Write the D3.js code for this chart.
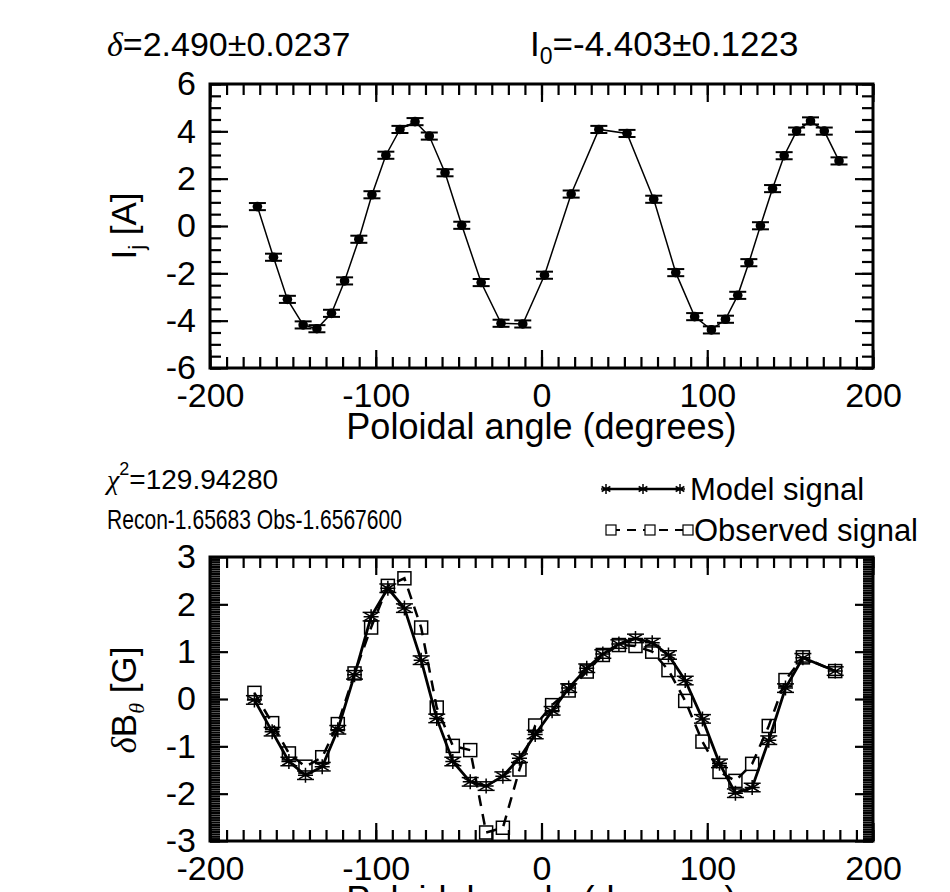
<!DOCTYPE html>
<html><head><meta charset="utf-8">
<script src="https://cdn.jsdelivr.net/npm/d3@7/dist/d3.min.js"></script>
<style>
body{margin:0;background:#fff}
svg text{font-family:"Liberation Sans",Arial,Helvetica,sans-serif;fill:#000}
</style>
</head><body>
<svg id="chart" width="950" height="892"></svg>
<script>
// ---------------- DATA ----------------
const topAngles = [-171.4,-161.7,-153.3,-143.8,-135.5,-126.7,-118.8,-110.2,-102.3,-93.9,-85.4,-76.3,-67.7,-58.2,-48.1,-36.4,-24.4,-11.3,1.8,17.9,34.6,51.6,67.7,81.0,92.4,102.5,111.0,118.4,125.1,132.1,139.4,146.4,153.9,162.3,170.6,179.5];
const topCurrent = [0.82,-1.32,-3.10,-4.18,-4.34,-3.69,-2.32,-0.56,1.32,2.99,4.08,4.41,3.80,2.25,0.03,-2.39,-4.11,-4.14,-2.08,1.35,4.08,3.91,1.13,-1.97,-3.83,-4.39,-3.94,-2.93,-1.55,0.01,1.58,2.97,4.01,4.44,4.01,2.75];
const topError = [0.15,0.15,0.15,0.15,0.15,0.15,0.15,0.15,0.15,0.15,0.15,0.15,0.15,0.15,0.15,0.15,0.15,0.15,0.15,0.15,0.15,0.15,0.15,0.15,0.15,0.15,0.15,0.15,0.15,0.15,0.15,0.15,0.15,0.15,0.15,0.15];

const botAngles = [-173.2,-162.5,-152.4,-142.4,-132.3,-122.9,-112.8,-102.8,-92.7,-82.7,-72.6,-63.2,-53.5,-43.0,-33.4,-23.3,-13.3,-3.8,6.4,16.4,27.3,37.0,46.7,56.7,66.8,76.6,86.7,97.1,107.4,117.0,127.1,137.1,147.2,157.7,177.2];
const modelSignal = [-0.02,-0.69,-1.32,-1.61,-1.43,-0.65,0.51,1.74,2.34,1.92,0.82,-0.41,-1.32,-1.75,-1.84,-1.63,-1.25,-0.75,-0.25,0.23,0.65,0.95,1.16,1.28,1.19,0.93,0.39,-0.42,-1.36,-1.99,-1.87,-0.87,0.23,0.87,0.59];
const modelError = [0.09,0.09,0.09,0.09,0.09,0.09,0.09,0.09,0.09,0.09,0.09,0.09,0.09,0.09,0.09,0.09,0.09,0.09,0.09,0.09,0.09,0.09,0.09,0.09,0.09,0.09,0.09,0.09,0.09,0.09,0.09,0.09,0.09,0.09,0.09];
const obsSignal = [0.13,-0.51,-1.15,-1.43,-1.23,-0.53,0.54,1.51,2.39,2.55,1.51,-0.18,-0.99,-1.08,-2.82,-2.72,-1.49,-0.56,-0.13,0.18,0.58,0.93,1.14,1.12,1.00,0.61,-0.04,-0.90,-1.54,-1.73,-1.37,-0.57,0.40,0.88,0.59];

const xTicks = [-200,-100,0,100,200];
const xMinorTicks = d3.range(-200, 201, 10);
const topYTicks = [-6,-4,-2,0,2,4,6];
const topYMinorTicks = d3.range(-6, 6.01, 0.5);
const botYTicks = [-3,-2,-1,0,1,2,3];
const botYMinorTicks = d3.range(-3, 3.001, 0.05);

const xTitle = "Poloidal angle (degrees)";
const legendLabels = ["Model signal", "Observed signal"];

// ---------------- LAYOUT ----------------
const svg = d3.select("#chart");
svg.append("rect").attr("width",950).attr("height",892).attr("fill","#fff");
const FONT = 34;
const L = 210, R = 873;
const topPanel = {t:84, b:368};
const botPanel = {t:557, b:841};

function drawFrame(panel, yDomain, yMajor, yMinor, yMinorLen) {
  const x = d3.scaleLinear().domain([-200,200]).range([L,R]);
  const y = d3.scaleLinear().domain(yDomain).range([panel.b, panel.t]);
  const g = svg.append("g");
  const style = sel => { sel.select(".domain").remove(); sel.selectAll("line").attr("stroke","#000").attr("stroke-width",2.2); sel.attr("font-family",null).attr("font-size",FONT); };
  // minor ticks
  g.append("g").attr("transform",`translate(0,${panel.b})`).call(d3.axisBottom(x).tickValues(xMinorTicks).tickSize(-11).tickFormat("")).call(style);
  g.append("g").attr("transform",`translate(0,${panel.t})`).call(d3.axisTop(x).tickValues(xMinorTicks).tickSize(-11).tickFormat("")).call(style);
  g.append("g").attr("transform",`translate(${L},0)`).call(d3.axisLeft(y).tickValues(yMinor).tickSize(-yMinorLen).tickFormat("")).call(style);
  g.append("g").attr("transform",`translate(${R},0)`).call(d3.axisRight(y).tickValues(yMinor).tickSize(-yMinorLen).tickFormat("")).call(style);
  // major ticks
  g.append("g").attr("transform",`translate(0,${panel.b})`).call(d3.axisBottom(x).tickValues(xTicks).tickSize(-18).tickPadding(15).tickFormat(d3.format("d"))).call(style);
  g.append("g").attr("transform",`translate(0,${panel.t})`).call(d3.axisTop(x).tickValues(xTicks).tickSize(-18).tickFormat("")).call(style);
  g.append("g").attr("transform",`translate(${L},0)`).call(d3.axisLeft(y).tickValues(yMajor).tickSize(-18).tickPadding(14).tickFormat(d3.format("d"))).call(style);
  g.append("g").attr("transform",`translate(${R},0)`).call(d3.axisRight(y).tickValues(yMajor).tickSize(-18).tickFormat("")).call(style);
  // minus sign as hyphen
  g.selectAll("text").text(function(){ return this.textContent.replace("\u2212","-"); });
  g.append("rect").attr("x",L).attr("y",panel.t).attr("width",R-L).attr("height",panel.b-panel.t)
    .attr("fill","none").attr("stroke","#000").attr("stroke-width",3);
  // x title
  svg.append("text").attr("x",(L+R)/2).attr("y",panel.b+71).attr("text-anchor","middle").attr("font-size",36).text(xTitle);
  return {x,y};
}

// ---------------- TOP PANEL ----------------
const A = drawFrame(topPanel, [-6,6], topYTicks, topYMinorTicks, 11);
const topData = topAngles.map((a,i)=>({a, v:topCurrent[i], e:topError[i]}));
svg.append("path").datum(topData)
  .attr("d", d3.line().x(d=>A.x(d.a)).y(d=>A.y(d.v)))
  .attr("fill","none").attr("stroke","#000").attr("stroke-width",1.5);
const eb = svg.append("g").attr("stroke","#000").attr("stroke-width",2);
topData.forEach(d=>{
  const cx=A.x(d.a), y1=A.y(d.v+d.e), y2=A.y(d.v-d.e);
  eb.append("line").attr("x1",cx).attr("x2",cx).attr("y1",y1).attr("y2",y2);
  eb.append("line").attr("x1",cx-8.5).attr("x2",cx+8.5).attr("y1",y1).attr("y2",y1);
  eb.append("line").attr("x1",cx-8.5).attr("x2",cx+8.5).attr("y1",y2).attr("y2",y2);
});
svg.append("g").selectAll("circle").data(topData).join("circle")
  .attr("cx",d=>A.x(d.a)).attr("cy",d=>A.y(d.v)).attr("r",4.8).attr("fill","#000");

// top annotations
const t1 = svg.append("text").attr("x",107).attr("y",56).attr("font-size",FONT);
t1.append("tspan").attr("font-family","Liberation Serif").attr("font-style","italic").text("\u03b4");
t1.append("tspan").text("=2.490\u00b10.0237");
const t2 = svg.append("text").attr("x",530).attr("y",56).attr("font-size",35);
t2.append("tspan").text("I");
t2.append("tspan").attr("font-size",23).attr("dy",8).text("0");
t2.append("tspan").attr("dy",-8).text("=-4.403\u00b10.1223");

// top y label
const yl1 = svg.append("text").attr("transform","translate(136,226) rotate(-90)").attr("text-anchor","middle").attr("font-size",35);
yl1.append("tspan").text("I");
yl1.append("tspan").attr("font-size",22).attr("dy",8).text("j");
yl1.append("tspan").attr("dy",-8).text(" [A]");

// ---------------- BOTTOM PANEL ----------------
const B = drawFrame(botPanel, [-3,3], botYTicks, botYMinorTicks, 10);
const modelData = botAngles.map((a,i)=>({a, v:modelSignal[i], e:modelError[i]}));
const obsData = botAngles.map((a,i)=>({a, v:obsSignal[i]}));

svg.append("path").datum(obsData)
  .attr("d", d3.line().x(d=>B.x(d.a)).y(d=>B.y(d.v)))
  .attr("fill","none").attr("stroke","#000").attr("stroke-width",2.5).attr("stroke-dasharray","11,8");
svg.append("path").datum(modelData)
  .attr("d", d3.line().x(d=>B.x(d.a)).y(d=>B.y(d.v)))
  .attr("fill","none").attr("stroke","#000").attr("stroke-width",2.8);

function asterisk(g, cx, cy, r) {
  const p = d3.path();
  p.moveTo(cx, cy-r); p.lineTo(cx, cy+r);
  const dx = r*0.87, dy = r*0.5;
  p.moveTo(cx-dx, cy-dy); p.lineTo(cx+dx, cy+dy);
  p.moveTo(cx-dx, cy+dy); p.lineTo(cx+dx, cy-dy);
  p.moveTo(cx-r, cy); p.lineTo(cx+r, cy);
  g.append("path").attr("d", p.toString()).attr("stroke","#000").attr("stroke-width",1.5).attr("fill","none");
}
const mg = svg.append("g");
modelData.forEach(d=>{
  const cx=B.x(d.a), cy=B.y(d.v), y1=B.y(d.v+d.e), y2=B.y(d.v-d.e);
  mg.append("line").attr("x1",cx-8.5).attr("x2",cx+8.5).attr("y1",y1).attr("y2",y1).attr("stroke","#000").attr("stroke-width",1.5);
  mg.append("line").attr("x1",cx-8.5).attr("x2",cx+8.5).attr("y1",y2).attr("y2",y2).attr("stroke","#000").attr("stroke-width",1.5);
  asterisk(mg, cx, cy, 7.5);
});
svg.append("g").selectAll("rect").data(obsData).join("rect")
  .attr("x",d=>B.x(d.a)-6.5).attr("y",d=>B.y(d.v)-6.5).attr("width",13).attr("height",13)
  .attr("fill","none").attr("stroke","#000").attr("stroke-width",1.5);

// bottom annotations
const c1 = svg.append("text").attr("x",107).attr("y",489).attr("font-size",28);
c1.append("tspan").attr("font-family","Liberation Serif").attr("font-style","italic").text("\u03c7");
c1.append("tspan").attr("font-size",18).attr("dy",-14).text("2");
c1.append("tspan").attr("dy",14).text("=129.94280");
svg.append("text").attr("transform","translate(107,529) scale(0.78,1)").attr("font-size",27).text("Recon-1.65683 Obs-1.6567600");

// legend
const lg = svg.append("g");
const lx = [606, 643, 680];
lg.append("line").attr("x1",lx[0]).attr("x2",lx[2]).attr("y1",489).attr("y2",489).attr("stroke","#000").attr("stroke-width",2.5);
lx.forEach(x=>asterisk(lg, x, 489, 5));
lg.append("text").attr("x",690).attr("y",500).attr("font-size",31).text(legendLabels[0]);
const ox = [611, 650, 688];
lg.append("line").attr("x1",ox[0]).attr("x2",ox[2]).attr("y1",530).attr("y2",530).attr("stroke","#000").attr("stroke-width",2).attr("stroke-dasharray","9,7");
ox.forEach(x=>{
  lg.append("rect").attr("x",x-5).attr("y",525).attr("width",10).attr("height",10).attr("fill","#fff").attr("stroke","#000").attr("stroke-width",1.2);
});
lg.append("text").attr("x",694).attr("y",541).attr("font-size",31).text(legendLabels[1]);

// bottom y label
const yl2 = svg.append("text").attr("transform","translate(136,700) rotate(-90)").attr("text-anchor","middle").attr("font-size",35);
yl2.append("tspan").attr("font-family","Liberation Serif").attr("font-style","italic").text("\u03b4");
yl2.append("tspan").text("B");
yl2.append("tspan").attr("font-size",22).attr("dy",8).attr("font-family","Liberation Serif").attr("font-style","italic").text("\u03b8");
yl2.append("tspan").attr("dy",-8).text(" [G]");
</script>
</body></html>
